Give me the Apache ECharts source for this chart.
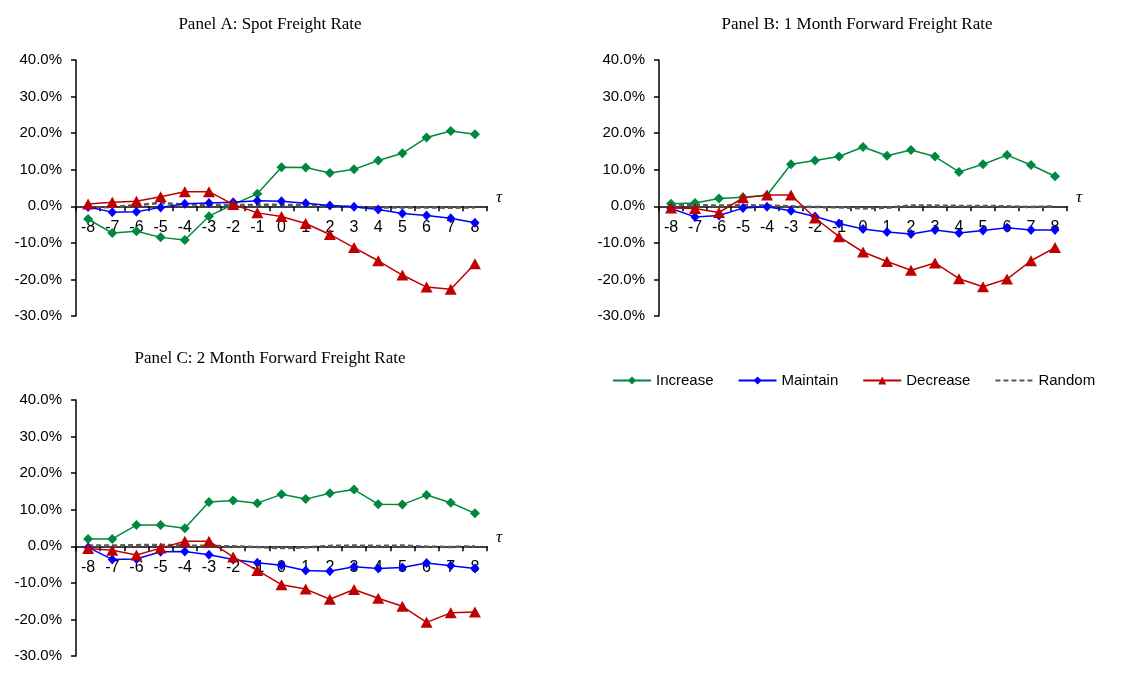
<!DOCTYPE html>
<html><head><meta charset="utf-8">
<script src="https://cdn.jsdelivr.net/npm/echarts@6/dist/echarts.min.js"></script>
<style>html,body{margin:0;padding:0;background:#fff}#c{width:1134px;height:673px}</style>
</head><body><div id="c"></div>
<script>
// ---- data (percent) ----
const tau = ['-8','-7','-6','-5','-4','-3','-2','-1','0','1','2','3','4','5','6','7','8'];
const seriesNames = ['Increase','Maintain','Decrease','Random'];
const panelTitles = ['Panel A: Spot Freight Rate','Panel B: 1 Month Forward Freight Rate','Panel C: 2 Month Forward Freight Rate'];
const yMin = -30, yMax = 40, yStep = 10;

const aIncrease = [-3.5,-7.3,-6.8,-8.5,-9.2,-2.7,0.5,3.4,10.7,10.6,9.1,10.1,12.5,14.5,18.8,20.6,19.7];
const aMaintain = [-0.2,-1.6,-1.5,-0.3,0.7,0.9,1.1,1.5,1.4,0.8,0.2,-0.1,-0.9,-2.0,-2.5,-3.3,-4.5];
const aDecrease = [0.6,1.1,1.4,2.6,4.0,4.0,0.5,-1.8,-2.8,-4.7,-7.7,-11.3,-14.9,-18.8,-22.1,-22.7,-15.7];
const aRandom   = [-0.3,-0.2,0.3,0.9,0.5,0.4,0.3,0.4,0.4,0.3,0.0,-0.2,-0.3,-0.3,-0.3,-0.4,-0.3];

const bIncrease = [0.7,0.9,2.1,2.5,3.0,11.5,12.5,13.6,16.2,13.8,15.4,13.6,9.4,11.5,14.0,11.3,8.2];
const bMaintain = [-0.6,-2.9,-2.5,-0.5,-0.1,-1.2,-2.8,-4.7,-6.2,-7.0,-7.6,-6.5,-7.3,-6.6,-5.9,-6.5,-6.5];
const bDecrease = [-0.5,-0.6,-1.7,2.3,3.1,3.1,-3.2,-8.3,-12.5,-15.1,-17.5,-15.5,-19.8,-22.0,-19.9,-14.9,-11.3];
const bRandom   = [0.2,0.3,0.2,0.3,0.2,0.0,-0.2,-0.3,-0.6,-0.4,0.2,0.2,0.1,0.1,0.0,-0.2,0.0];

const cIncrease = [2.0,2.0,5.8,5.8,4.9,12.1,12.5,11.8,14.2,12.9,14.5,15.5,11.5,11.4,14.0,11.9,9.0];
const cMaintain = [-0.3,-3.6,-3.5,-1.5,-1.4,-2.3,-3.6,-4.5,-5.2,-6.6,-6.8,-5.6,-6.1,-5.8,-4.6,-5.3,-6.1];
const cDecrease = [-0.6,-1.1,-2.4,-0.5,1.4,1.4,-2.9,-6.6,-10.5,-11.7,-14.5,-11.8,-14.2,-16.4,-20.8,-18.2,-18.0];
const cRandom   = [0.2,0.2,0.3,0.4,0.2,0.1,0.0,-0.2,-0.5,-0.3,0.1,0.2,0.1,0.2,-0.1,-0.2,0.0];

const panels = [
  [aIncrease, aMaintain, aDecrease, aRandom],
  [bIncrease, bMaintain, bDecrease, bRandom],
  [cIncrease, cMaintain, cDecrease, cRandom]
];

// ---- styling ----
const SANS = '"Liberation Sans", Arial, sans-serif';
const SERIF = '"Liberation Serif", "Times New Roman", serif';
const colors = ['#00893E', '#0000FF', '#C00000', '#595959'];
const symbols = ['diamond', 'diamond', 'triangle', 'none'];
const symbolSizes = [[10,10], [9,10], [12,11], 1];
const grids = [
  {left: 76, top: 60, width: 411, height: 256},
  {left: 659, top: 60, width: 408, height: 256},
  {left: 76, top: 400, width: 411, height: 256}
];
const titlePos = [[265, 11], [852, 11], [265, 345]];

const chart = echarts.init(document.getElementById('c'), null, {renderer: 'canvas'});

const option = {
  animation: false,
  backgroundColor: '#fff',
  title: panelTitles.map((t, i) => ({
    text: t, left: titlePos[i][0], top: titlePos[i][1], textAlign: 'center',
    textStyle: {fontFamily: SERIF, fontSize: 17, fontWeight: 'normal', color: '#000'}
  })),
  legend: {
    data: seriesNames.map((n, k) => k === 3 ? {name: n, itemStyle: {opacity: 0}} : {name: n}),
    left: 612, top: 373, itemWidth: 38, itemHeight: 10, itemGap: 24,
    textStyle: {fontFamily: SANS, fontSize: 15, color: '#000'},
    padding: 0
  },
  grid: grids,
  xAxis: grids.map((g, i) => ({
    type: 'category', gridIndex: i, data: tau, boundaryGap: true, position: 'bottom',
    // place the category axis at the value-axis zero (crosses at 0)
    offset: -(0 - yMin) / (yMax - yMin) * g.height,
    axisLine: {onZero: false, lineStyle: {color: '#000', width: 1.5}},
    axisTick: {show: true, inside: false, length: 5, alignWithLabel: false, lineStyle: {color: '#000', width: 1.5}},
    axisLabel: {fontFamily: SANS, fontSize: 16, color: '#000', margin: 13, interval: 0},
    name: 'τ', nameLocation: 'end', nameGap: 9,
    nameTextStyle: {fontFamily: SERIF, fontStyle: 'italic', fontSize: 17, color: '#000', verticalAlign: 'bottom', padding: [0, 0, 0, 0]},
    splitLine: {show: false},
    z: 0
  })),
  yAxis: grids.map((g, i) => ({
    type: 'value', gridIndex: i, min: yMin, max: yMax, interval: yStep,
    axisLine: {show: true, onZero: false, lineStyle: {color: '#000', width: 1.5}},
    axisTick: {show: true, inside: false, length: 5, lineStyle: {color: '#000', width: 1.5}},
    axisLabel: {fontFamily: SANS, fontSize: 15, color: '#000', margin: 14, formatter: v => v.toFixed(1) + '%'},
    splitLine: {show: false}
  })),
  series: []
};

panels.forEach((p, i) => {
  p.forEach((vals, k) => {
    const isRand = k === 3;
    option.series.push({
      name: seriesNames[k], type: 'line', xAxisIndex: i, yAxisIndex: i,
      data: vals,
      symbol: symbols[k], symbolSize: symbolSizes[k], showSymbol: !isRand,
      z: isRand ? 1 : 2 + k,
      lineStyle: {color: colors[k], width: isRand ? 2.5 : 1.5, type: isRand ? [5, 3] : 'solid'},
      itemStyle: {color: colors[k]},
      emphasis: {disabled: true}
    });
  });
});

chart.setOption(option);
</script>
</body></html>
